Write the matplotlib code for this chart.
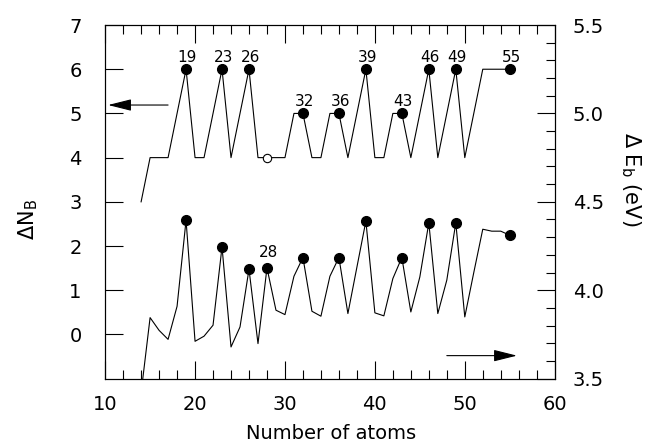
import matplotlib
matplotlib.use("Agg")
import matplotlib.pyplot as plt
from matplotlib.ticker import MultipleLocator

# ---- data ----
atoms = list(range(14, 56))
delta_nb = [3, 4, 4, 4, 5, 6, 4, 4, 5, 6, 4, 5, 6, 4, 4, 4, 4, 5, 5, 4, 4, 5, 5, 4,
            5, 6, 4, 4, 5, 5, 4, 5, 6, 4, 5, 6, 4, 5, 6, 6, 6, 6]
delta_eb = [3.42, 3.845, 3.773, 3.722, 3.909, 4.396, 3.711, 3.74, 3.802, 4.245,
            3.679, 3.792, 4.119, 3.698, 4.126, 3.887, 3.862, 4.079, 4.185, 3.881,
            3.853, 4.079, 4.185, 3.868, 4.13, 4.391, 3.872, 3.855, 4.066, 4.185,
            3.877, 4.075, 4.381, 3.868, 4.057, 4.381, 3.849, 4.10, 4.345, 4.334,
            4.334, 4.311]
magic_nb = [19, 23, 26, 32, 36, 39, 43, 46, 49, 55]
open_nb = [28]
magic_eb = [19, 23, 26, 28, 32, 36, 39, 43, 46, 49, 55]
eb_labels = [28]

nb_map = dict(zip(atoms, delta_nb))
eb_map = dict(zip(atoms, delta_eb))

fig = plt.figure(figsize=(6.45, 4.47), dpi=100)
ax1 = fig.add_axes([0.163, 0.153, 0.697, 0.791])
ax2 = ax1.twinx()

ax1.plot(atoms, delta_nb, color='black', lw=0.8)
ax1.plot(magic_nb, [nb_map[n] for n in magic_nb], 'o', color='black', ms=7)
ax1.plot(open_nb, [nb_map[n] for n in open_nb], 'o', mfc='white', mec='black',
         mew=0.8, ms=6)
for n in magic_nb:
    ax1.annotate(str(n), (n, nb_map[n]), xytext=(1, 8.5), textcoords='offset points',
                 ha='center', va='center', fontsize=11)

ax2.plot(atoms, delta_eb, color='black', lw=0.8, clip_on=True)
ax2.plot(magic_eb, [eb_map[n] for n in magic_eb], 'o', color='black', ms=7)
for n in eb_labels:
    ax2.annotate(str(n), (n, eb_map[n]), xytext=(1, 11), textcoords='offset points',
                 ha='center', va='center', fontsize=11)

ax1.set_xlim(10, 60)
ax1.set_ylim(-1, 7)
ax2.set_ylim(3.5, 5.5)

ax1.xaxis.set_major_locator(MultipleLocator(10))
ax1.xaxis.set_minor_locator(MultipleLocator(2))
ax1.set_yticks(range(0, 8))
ax2.yaxis.set_minor_locator(MultipleLocator(0.1))
ax2.set_yticks([3.5, 4.0, 4.5, 5.0, 5.5])
ax2.set_yticklabels(['3.5', '4.0', '4.5', '5.0', '5.5'])

ax1.tick_params(axis='x', which='both', direction='in', top=True, bottom=True,
                labelsize=14, pad=12)
ax1.tick_params(axis='x', which='major', length=13, width=0.8)
ax1.tick_params(axis='x', which='minor', length=6.5, width=0.8)
ax1.tick_params(axis='y', which='major', direction='in', left=True, right=False,
                length=13, width=0.8, labelsize=14, pad=17)
ax2.tick_params(axis='y', which='both', direction='in', right=True, left=False,
                labelsize=14, pad=13)
ax2.tick_params(axis='y', which='major', length=13, width=0.8)
ax2.tick_params(axis='y', which='minor', length=6.5, width=0.8)

for ax in (ax1, ax2):
    for s in ax.spines.values():
        s.set_linewidth(0.8)

# axis titles
fig.text(0.514, 0.031, 'Number of atoms', fontsize=14, ha='center', va='center')
fig.text(0.043, 0.508, r'$\Delta$N$_\mathregular{B}$', fontsize=15, rotation=90,
         ha='center', va='center')
fig.text(0.978, 0.600, r'$\Delta$ E$_\mathregular{b}$ (eV)', fontsize=15,
         rotation=-90, ha='center', va='center')

# arrows indicating which axis each curve belongs to
arrow_style = '-|>,head_length=0.72,head_width=0.18'
ax1.annotate('', xy=(10.33, 5.19), xytext=(17.0, 5.19),
             arrowprops=dict(arrowstyle=arrow_style, color='black', lw=0.8,
                             mutation_scale=20, shrinkA=0, shrinkB=0))
ax1.annotate('', xy=(55.8, -0.48), xytext=(48.0, -0.48),
             arrowprops=dict(arrowstyle=arrow_style, color='black', lw=0.8,
                             mutation_scale=20, shrinkA=0, shrinkB=0))

fig.savefig('out.png', dpi=100)
